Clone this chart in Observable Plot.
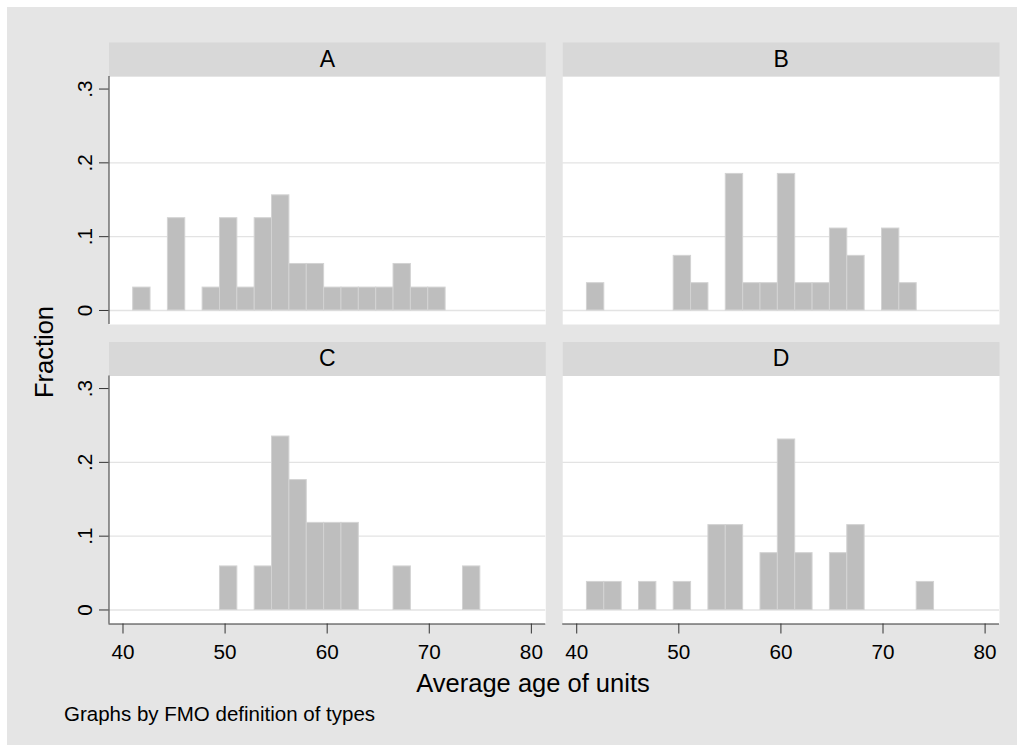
<!DOCTYPE html>
<html>
<head>
<meta charset="utf-8">
<script src="https://cdn.jsdelivr.net/npm/d3@7"></script>
<script src="https://cdn.jsdelivr.net/npm/@observablehq/plot@0.6"></script>
<style>
  html, body { margin: 0; padding: 0; background: #ffffff; }
  #wrap { position: relative; width: 1024px; height: 751px; overflow: hidden;
          font-family: "Liberation Sans", Arial, Helvetica, sans-serif; }
  #bg { position: absolute; left: 7px; top: 7px; width: 1010px; height: 738px; background: #e5e5e5; }
  #chart { position: absolute; left: 0; top: 0; }
  .lbl { position: absolute; line-height: 1; white-space: nowrap; color: #000; }
</style>
</head>
<body>
<div id="wrap">
  <div id="bg"></div>
  <div id="chart"></div>
  <div class="lbl" id="ytitle"></div>
  <div class="lbl" id="xtitle"></div>
  <div class="lbl" id="note"></div>
</div>
<script>
// ---- data ----
const panelNames = ["A", "B", "C", "D"];
const panelCol = [0, 1, 0, 1];
const panelRow = [0, 0, 1, 1];

const binEdges = [41.0, 42.7, 44.4, 46.1, 47.8, 49.5, 51.2, 52.9, 54.6, 56.3, 58.0,
                  59.7, 61.4, 63.1, 64.8, 66.5, 68.2, 69.9, 71.6, 73.3, 75.0];

const fracA = [0.031, 0, 0.125, 0, 0.031, 0.125, 0.031, 0.125, 0.156, 0.063,
               0.063, 0.031, 0.031, 0.031, 0.031, 0.063, 0.031, 0.031, 0, 0];
const fracB = [0.037, 0, 0, 0, 0, 0.074, 0.037, 0, 0.185, 0.037,
               0.037, 0.185, 0.037, 0.037, 0.111, 0.074, 0, 0.111, 0.037, 0];
const fracC = [0, 0, 0, 0, 0, 0.059, 0, 0.059, 0.235, 0.176,
               0.118, 0.118, 0.118, 0, 0, 0.059, 0, 0, 0, 0.059];
const fracD = [0.038, 0.038, 0, 0.038, 0, 0.038, 0, 0.115, 0.115, 0,
               0.077, 0.231, 0.077, 0, 0.077, 0.115, 0, 0, 0, 0.038];

const xTicks = [40, 50, 60, 70, 80];
const yTicks = [0, 0.1, 0.2, 0.3];
const yTickLabels = ["0", ".1", ".2", ".3"];
const gridValues = [0, 0.1, 0.2];

const xTitle = "Average age of units";
const yTitle = "Fraction";
const noteText = "Graphs by FMO definition of types";

// ---- build tables ----
const fracs = [fracA, fracB, fracC, fracD];
const panels = panelNames.map((name, i) => ({name, col: panelCol[i], row: panelRow[i]}));
const bars = [];
panels.forEach((p, k) => {
  fracs[k].forEach((f, i) => {
    if (f > 0) bars.push({col: p.col, row: p.row, x1: binEdges[i], x2: binEdges[i + 1], y: f});
  });
});

const xDomain = [38.63, 81.41];
const yDomain = [-0.019, 0.317];
const font = '"Liberation Sans", Arial, Helvetica, sans-serif';

const chart = Plot.plot({
  width: 1024,
  height: 751,
  marginLeft: 108.5,
  marginRight: 25,
  marginTop: 76,
  marginBottom: 127.5,
  style: {background: "transparent", fontFamily: font, color: "#000", overflow: "visible"},
  fx: {domain: [0, 1], paddingInner: 0.0374, paddingOuter: 0, round: false, axis: null},
  fy: {domain: [0, 1], paddingInner: 0.172, paddingOuter: 0, round: false, axis: null},
  x: {domain: xDomain, round: false},
  y: {domain: yDomain},
  marks: [
    Plot.frame({fill: "#ffffff", stroke: "none"}),
    Plot.frame({fill: "#d8d8d8", stroke: "none", insetTop: -34, insetBottom: 248}),
    Plot.text(panels, {fx: "col", fy: "row", text: "name", frameAnchor: "top", lineAnchor: "middle",
                       dy: -17, fontSize: 23, fill: "#000"}),
    Plot.gridY(gridValues, {stroke: "#e3e3e3", strokeOpacity: 1, strokeWidth: 1.4}),
    Plot.rect(bars, {fx: "col", fy: "row", x1: "x1", x2: "x2", y1: 0, y2: "y",
                     fill: "#bebebe", stroke: "#d3d3d3", strokeWidth: 1}),
    Plot.ruleX(panels.filter(p => p.col === 0), {fx: "col", fy: "row", x: () => xDomain[0],
                     stroke: "#333", strokeWidth: 1}),
    Plot.ruleY(panels.filter(p => p.row === 1), {fx: "col", fy: "row", y: () => yDomain[0],
                     stroke: "#333", strokeWidth: 1}),
    Plot.axisY(yTicks, {anchor: "left", tickSize: 9.5, tickPadding: 7.3, tickRotate: -90,
                     tickFormat: d => yTickLabels[yTicks.indexOf(d)], fontSize: 20.7,
                     stroke: "#333", fill: "#000", label: null}),
    Plot.axisX(xTicks, {anchor: "bottom", tickSize: 10, tickPadding: 10, fontSize: 20.7,
                     stroke: "#333", fill: "#000", label: null})
  ]
});
document.getElementById("chart").appendChild(chart);

// ---- titles (real text) ----
const yt = document.getElementById("ytitle");
yt.textContent = yTitle;
Object.assign(yt.style, {left: "44.7px", top: "351.7px", fontSize: "25.5px",
  transform: "translate(-50%, -50%) rotate(-90deg)"});
const xt = document.getElementById("xtitle");
xt.textContent = xTitle;
Object.assign(xt.style, {left: "533px", top: "683.7px", fontSize: "25.5px",
  transform: "translate(-50%, -50%)"});
const nt = document.getElementById("note");
nt.textContent = noteText;
Object.assign(nt.style, {left: "64px", top: "713.6px", fontSize: "20.5px",
  transform: "translate(0, -50%)"});
</script>
</body>
</html>
